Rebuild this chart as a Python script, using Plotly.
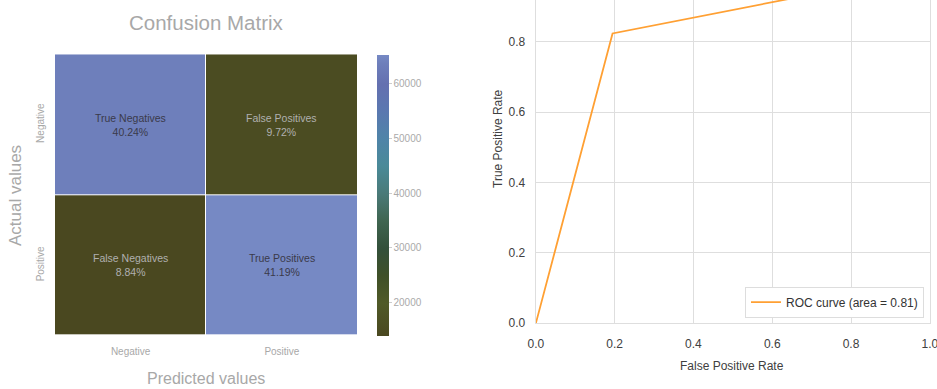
import plotly.graph_objects as go

# ---- data ----
cm_rows = ["Negative", "Positive"]          # actual
cm_cols = ["Negative", "Positive"]          # predicted
cm_counts = [[63821, 15416],
             [14020, 65327]]
cm_names = [["True Negatives", "False Positives"],
            ["False Negatives", "True Positives"]]
cm_pcts = [["40.24%", "9.72%"],
           ["8.84%", "41.19%"]]
cbar_ticks = [20000, 30000, 40000, 50000, 60000]

fpr = [0.0, 0.1946, 1.0]
tpr = [0.0, 0.8233, 1.0]
roc_auc = 0.81
roc_xticks = [0, 0.2, 0.4, 0.6, 0.8, 1.0]
roc_yticks = [0, 0.2, 0.4, 0.6, 0.8]

colorscale = [
    [0.00, "#4a4820"],
    [0.117, "#505a28"],
    [0.214, "#3f5028"],
    [0.311, "#33503a"],
    [0.409, "#3f6550"],
    [0.506, "#4a7a78"],
    [0.604, "#4a8a98"],
    [0.701, "#4f84a8"],
    [0.798, "#5a78b0"],
    [0.896, "#6470b0"],
    [0.97, "#6e7fbb"],
    [1.00, "#7689c4"],
]

W, H = 937, 389
def px(x): return x / W
def py(y): return 1 - y / H

FONT = "Liberation Sans, Arial"
fig = go.Figure()

text = [[f"{cm_names[i][j]}<br>{cm_pcts[i][j]}" for j in range(2)] for i in range(2)]
fig.add_trace(go.Heatmap(
    z=cm_counts, x=cm_cols, y=cm_rows,
    colorscale=colorscale, zmin=min(min(r) for r in cm_counts), zmax=max(max(r) for r in cm_counts),
    xgap=1, ygap=1,
    showscale=True,
    colorbar=dict(x=px(376.7), xanchor="left", y=(py(54.3) + py(335.7)) / 2, yanchor="middle",
                  len=(335.7 - 54.3) / H, lenmode="fraction", thickness=12, thicknessmode="pixels",
                  xpad=0, ypad=0,
                  outlinewidth=0, ticks="outside", ticklen=3, tickcolor="#cccccc",
                  tickvals=cbar_ticks, tickformat="d",
                  tickfont=dict(family=FONT, size=10, color="#aaaaaa")),
    xaxis="x", yaxis="y", hoverinfo="skip",
))

for i in range(2):
    for j in range(2):
        dark = cm_counts[i][j] > 40000
        fig.add_annotation(x=cm_cols[j], y=cm_rows[i], xref="x", yref="y",
                           text=text[i][j], showarrow=False,
                           font=dict(family=FONT, size=10.5,
                                     color="#3a3a4a" if dark else "#b0b0b0"),
                           align="center")

fig.add_trace(go.Scatter(
    x=fpr, y=tpr, mode="lines", name=f"ROC curve (area = {roc_auc:.2f})",
    line=dict(color="#ffa033", width=1.8),
    xaxis="x2", yaxis="y2",
))

tick_font_g = dict(family=FONT, size=10, color="#a8a8a8")
tick_font_d = dict(family=FONT, size=12, color="#404040")

fig.update_layout(
    width=W, height=H, margin=dict(l=0, r=0, t=0, b=0, autoexpand=False),
    paper_bgcolor="white", plot_bgcolor="white",
    showlegend=True,
    legend=dict(x=px(924), xanchor="right", y=py(286.7), yanchor="top",
                bordercolor="#dddddd", borderwidth=1, bgcolor="white",
                font=dict(family=FONT, size=12, color="#333333")),
    xaxis=dict(domain=[px(55), px(357.5)], anchor="y", showgrid=False, zeroline=False,
               automargin=False, tickfont=tick_font_g, ticks="", ticklabelstandoff=8),
    yaxis=dict(domain=[py(335.7), py(54.3)], anchor="x", showgrid=False, zeroline=False,
               automargin=False, autorange="reversed", tickfont=tick_font_g, ticks="",
               tickangle=-90, ticklabelstandoff=8),
    xaxis2=dict(domain=[px(535.7), px(930)], anchor="y2", range=[-0.0005, 1.0005],
                tickvals=roc_xticks, tickformat=".1f", automargin=False,
                ticklabeloverflow="allow",
                showgrid=True, gridcolor="#dedede", gridwidth=1, zeroline=False,
                showline=True, linecolor="#dedede", linewidth=1,
                tickfont=tick_font_d, ticklabelstandoff=9),
    yaxis2=dict(domain=[py(323.3), 1.0], anchor="x2", range=[-0.0005, 0.9185],
                tickvals=roc_yticks, tickformat=".1f", automargin=False,
                ticklabeloverflow="allow",
                showgrid=True, gridcolor="#dedede", gridwidth=1, zeroline=False,
                showline=True, linecolor="#dedede", linewidth=1, mirror=True,
                tickfont=tick_font_d, ticklabelstandoff=7),
)

def label(t, x, y, size, color, angle=0):
    fig.add_annotation(text=t, x=px(x), y=py(y), xref="paper", yref="paper",
                       showarrow=False, xanchor="center", yanchor="middle", textangle=angle,
                       font=dict(family=FONT, size=size, color=color))

label("Confusion Matrix", 206, 22, 20.5, "#a8a8a8")
label("Predicted values", 206, 378, 16, "#a8a8a8")
label("Actual values", 15, 196, 17, "#a8a8a8", -90)
label("False Positive Rate", 732, 366, 12, "#404040")
label("True Positive Rate", 498, 139, 12, "#404040", -90)

fig.write_html("out.html")
